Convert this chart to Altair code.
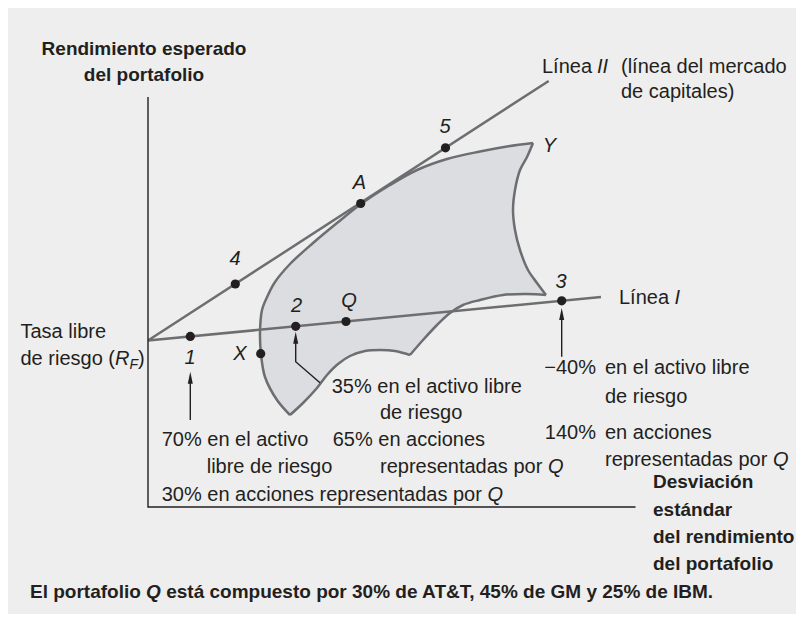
import altair as alt
import pandas as pd

# ---------------- data (diagram units: x = risk, y = expected return) ----------------
rf = [0.0, 16.65]
line_I = [[0.0, 16.65], [45.3, 21.0]]
line_II = [[0.0, 16.65], [40.07, 42.6]]
axes_pts = [[0.0, 41.0], [0.0, 0.0], [48.75, 0.0]]

dot_names = ["1", "2", "Q", "3", "X", "4", "A", "5"]
dot_x = [4.23, 14.77, 19.8, 41.37, 11.27, 8.73, 21.27, 29.75]
dot_y = [17.06, 18.07, 18.55, 20.62, 15.33, 22.3, 30.35, 35.92]

seg_upper = [(14.2, 9.2), (12.9, 10.7), (11.7, 13.0), (11.3, 15.3), (11.2, 17.4), (11.4, 19.7),
             (12.0, 21.2), (12.7, 22.5), (14.2, 24.3), (16.5, 26.4), (18.9, 28.4), (21.3, 30.3),
             (24.2, 32.2), (26.9, 33.7), (29.9, 34.8), (33.2, 35.55), (35.9, 36.05), (38.5, 36.4)]
seg_right = [(38.5, 36.4), (37.9, 35.0), (37.2, 33.7), (36.7, 31.7), (36.5, 29.7), (36.7, 27.7),
             (37.2, 25.7), (38.0, 23.7), (38.9, 22.4), (39.8, 21.2)]
seg_lowright = [(39.8, 21.2), (37.9, 21.3), (35.5, 21.2), (33.2, 20.7), (31.5, 20.2), (30.2, 19.4),
                (28.9, 18.2), (27.5, 16.7), (26.2, 15.2)]
seg_lowleft = [(26.2, 15.2), (24.7, 15.6), (23.2, 15.7), (21.7, 15.6), (20.2, 15.1), (19.0, 14.3),
               (17.9, 13.2), (16.9, 11.9), (15.5, 10.4), (14.2, 9.2)]

arrow_shafts = {
    "a1": [(4.23, 12.9), (4.23, 8.7)],
    "a2": [(14.77, 16.9), (14.77, 14.53), (17.2, 12.43)],
    "a3": [(41.37, 19.3), (41.37, 15.03)],
}
arrow_heads_x = [4.23, 14.77, 41.37]
arrow_heads_y = [12.93, 16.93, 19.3]

# text annotations
bold_center = [("Rendimiento esperado", -0.4, 45.2), ("del portafolio", -0.4, 42.6)]
bold_left = [("Desviación", 50.5, 1.9), ("estándar", 50.5, -0.85),
             ("del rendimiento", 50.5, -3.6), ("del portafolio", 50.5, -6.3),
             ("El portafolio", -11.8, -9.1),
             ("está compuesto por 30% de AT&T, 45% de GM y 25% de IBM.", 1.82, -9.1)]
bold_italic_left = [("Q", -0.19, -9.1)]
reg_left = [("Línea", 39.4, 43.4), ("(línea del mercado", 47.3, 43.4), ("de capitales)", 47.3, 40.9),
            ("Línea", 47.1, 20.3),
            ("Tasa libre", -12.75, 16.9), ("de riesgo (", -12.75, 14.2), (")", -1.0, 14.2),
            ("70% en el activo", 1.37, 6.1), ("libre de riesgo", 5.87, 3.43),
            ("30% en acciones representadas por", 1.37, 0.6),
            ("35% en el activo libre", 18.37, 11.43), ("de riesgo", 23.2, 8.77),
            ("65% en acciones", 18.47, 6.1), ("representadas por", 23.2, 3.43),
            ("en el activo libre", 45.7, 13.27), ("de riesgo", 45.7, 10.43),
            ("en acciones", 45.7, 6.77), ("representadas por", 45.7, 4.1)]
reg_right = [("\u221240%", 44.8, 13.27), ("140%", 44.8, 6.77)]
ital_left = [("II", 44.9, 43.4), ("I", 52.66, 20.3), ("R", -3.3, 14.2),
             ("Q", 33.94, 0.6), ("Q", 39.99, 3.43), ("Q", 62.49, 4.1)]
ital_sub = [("F", -1.85, 13.8)]
ital_center = [("1", 4.2, 14.3), ("X", 9.2, 14.75), ("2", 14.85, 19.53), ("Q", 20.1, 20.03),
               ("3", 41.3, 21.87), ("4", 8.7, 24.2), ("A", 21.15, 31.77), ("5", 29.7, 37.4),
               ("Y", 40.15, 35.53)]

# ---------------- styling ----------------
INK = "#231f20"
GREY = "#6d6e71"
FILL = "#dcdde0"
BG = "#eeeeee"
REG = "Liberation Sans"
BOLD = "Liberation Sans"

XS = alt.Scale(domain=[-14, 64.8], nice=False, zero=False)
YS = alt.Scale(domain=[-10.7, 49.9], nice=False, zero=False)


def X(f="x"):
    return alt.X(f"{f}:Q", scale=XS, axis=None)


def Y(f="y"):
    return alt.Y(f"{f}:Q", scale=YS, axis=None)


def path_df(pts, name="p"):
    return pd.DataFrame({"x": [p[0] for p in pts], "y": [p[1] for p in pts],
                         "i": list(range(len(pts))), "g": name})


polygon = seg_upper + seg_right[1:] + seg_lowright[1:] + seg_lowleft[1:-1]

fill_layer = alt.Chart(path_df(polygon)).mark_line(
    fill=FILL, stroke=FILL, strokeWidth=0.5, interpolate="linear"
).encode(x=X(), y=Y(), order="i:Q")

seg_df = pd.concat([path_df(seg_upper, "u"), path_df(seg_right, "r"),
                    path_df(seg_lowright, "lr"), path_df(seg_lowleft, "ll")])
outline = alt.Chart(seg_df).mark_line(
    color=GREY, strokeWidth=2.5, interpolate="catmull-rom"
).encode(x=X(), y=Y(), order="i:Q", detail="g:N")

lines_df = pd.concat([path_df(line_I, "I"), path_df(line_II, "II")])
lines = alt.Chart(lines_df).mark_line(color=GREY, strokeWidth=2.5).encode(
    x=X(), y=Y(), order="i:Q", detail="g:N")

axes = alt.Chart(path_df(axes_pts, "ax")).mark_line(color=INK, strokeWidth=1.4).encode(
    x=X(), y=Y(), order="i:Q")

shaft_df = pd.concat([path_df(v, k) for k, v in arrow_shafts.items()])
shafts = alt.Chart(shaft_df).mark_line(color=INK, strokeWidth=1.4).encode(
    x=X(), y=Y(), order="i:Q", detail="g:N")

heads = alt.Chart(pd.DataFrame({"x": arrow_heads_x, "y": arrow_heads_y})).mark_point(
    shape="M0,-1L0.42,1L-0.42,1Z", size=144, filled=True, color=INK, opacity=1, strokeWidth=0
).encode(x=X(), y=Y())

dots = alt.Chart(pd.DataFrame({"x": dot_x, "y": dot_y, "n": dot_names})).mark_circle(
    size=85, color=INK, opacity=1
).encode(x=X(), y=Y())


def text_layer(items, align, font=REG, weight="normal", style="normal", size=20):
    df = pd.DataFrame({"t": [a[0] for a in items], "x": [a[1] for a in items],
                       "y": [a[2] for a in items]})
    return alt.Chart(df).mark_text(
        align=align, baseline="alphabetic", font=font, fontWeight=weight,
        fontStyle=style, fontSize=size, color=INK
    ).encode(x=X(), y=Y(), text="t:N")


texts = [
    text_layer(bold_center, "center", BOLD, "bold", size=19),
    text_layer(bold_left, "left", BOLD, "bold", size=19),
    text_layer(bold_italic_left, "left", BOLD, "bold", "italic", size=19),
    text_layer(reg_left, "left"),
    text_layer(reg_right, "right"),
    text_layer(ital_left, "left", style="italic"),
    text_layer(ital_sub, "left", style="italic", size=14),
    text_layer(ital_center, "center", style="italic"),
]

chart = alt.layer(fill_layer, outline, lines, axes, shafts, heads, dots, *texts).properties(
    width=788, height=606, background=BG, padding=0,
    autosize=alt.AutoSizeParams(type="none")
).configure_view(stroke=None)

chart.save("out.html", embed_options={"renderer": "svg", "actions": False})
